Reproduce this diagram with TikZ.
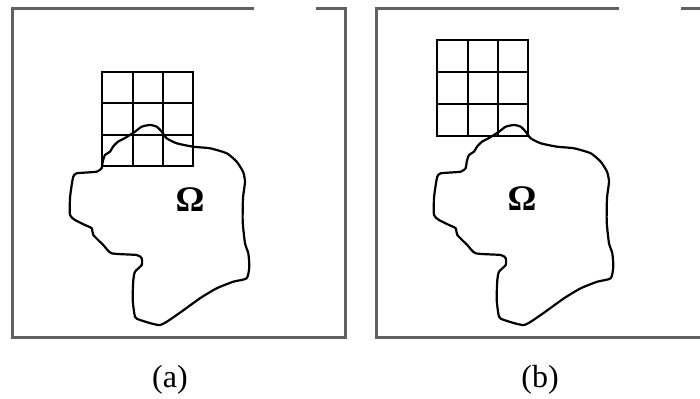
\documentclass[tikz,border=0pt]{standalone}
\usepackage{fontspec}
\setmainfont{Liberation Serif}
\begin{document}
\begin{tikzpicture}[x=0.5pt,y=-0.5pt,
  frame/.style={line width=1.5pt,draw=black!62,line join=miter},
  gridline/.style={line width=1pt,draw=black},
  blob/.style={line width=1.1pt,draw=black,line join=round},
  omega/.style={font=\fontsize{18}{21}\selectfont\bfseries,inner sep=0pt},
  caption/.style={font=\fontsize{16}{19}\selectfont,inner sep=0pt}]
\useasboundingbox (0,0) rectangle (700,399);
\def\blobpath{plot[smooth cycle,tension=0.35] coordinates {
(76.7,173.3) (96.7,171.7) (101.7,168) (102.7,161.7) (105,155) (110,151.7) (113,146.7) (118,141.7) (125,138) (135,131.7) (141.7,126.7) (150,125) (156.7,126.7) (161.7,131.7) (166.7,138.3) (176.7,143.3) (193,146.7) (210,148.3) (226.7,153.3) (236.7,161.7) (243,171.7) (245,181.7) (243,198) (242.7,221.7) (245,243.3) (248.3,253.3) (249.3,266.7) (246.7,278.3) (233.3,281.7) (216.7,288.3) (200,298.3) (176.7,315) (160,325) (140,320) (135,316.7) (132.7,300) (133.3,280) (135,271.7) (141.7,265) (141.7,258.3) (136.7,255) (111.7,253.3) (103.3,245) (93.3,235) (91.7,228.3) (85,225) (75,220) (70,215) (70,198) (71.7,185) (73.3,176.7)}}
% panel (a)
\draw[frame] (254,9) -- (12,9) -- (12,338) -- (345,338) -- (345,9) -- (316,9);
\draw[gridline] (102,72) rectangle (193,166);
\draw[gridline] (133,72) -- (133,166) (163,72) -- (163,166)
  (102,103) -- (193,103) (102,135) -- (193,135);
\draw[blob] \blobpath;
\node[omega] (omegaA) at (190,200) {Ω};
\node[caption] (capA) at (170,380) {(a)};
% panel (b)
\draw[frame] (619,9) -- (376,9) -- (376,338) -- (700,338);
\draw[frame] (681,9) -- (700,9);
\draw[gridline] (437,40) rectangle (528,136);
\draw[gridline] (468,40) -- (468,136) (498,40) -- (498,136)
  (437,72) -- (528,72) (437,104) -- (528,104);
\begin{scope}[shift={(364,0)}]
\draw[blob] \blobpath;
\end{scope}
\node[omega] (omegaB) at (522,199) {Ω};
\node[caption] (capB) at (540,380) {(b)};
\end{tikzpicture}
\end{document}
